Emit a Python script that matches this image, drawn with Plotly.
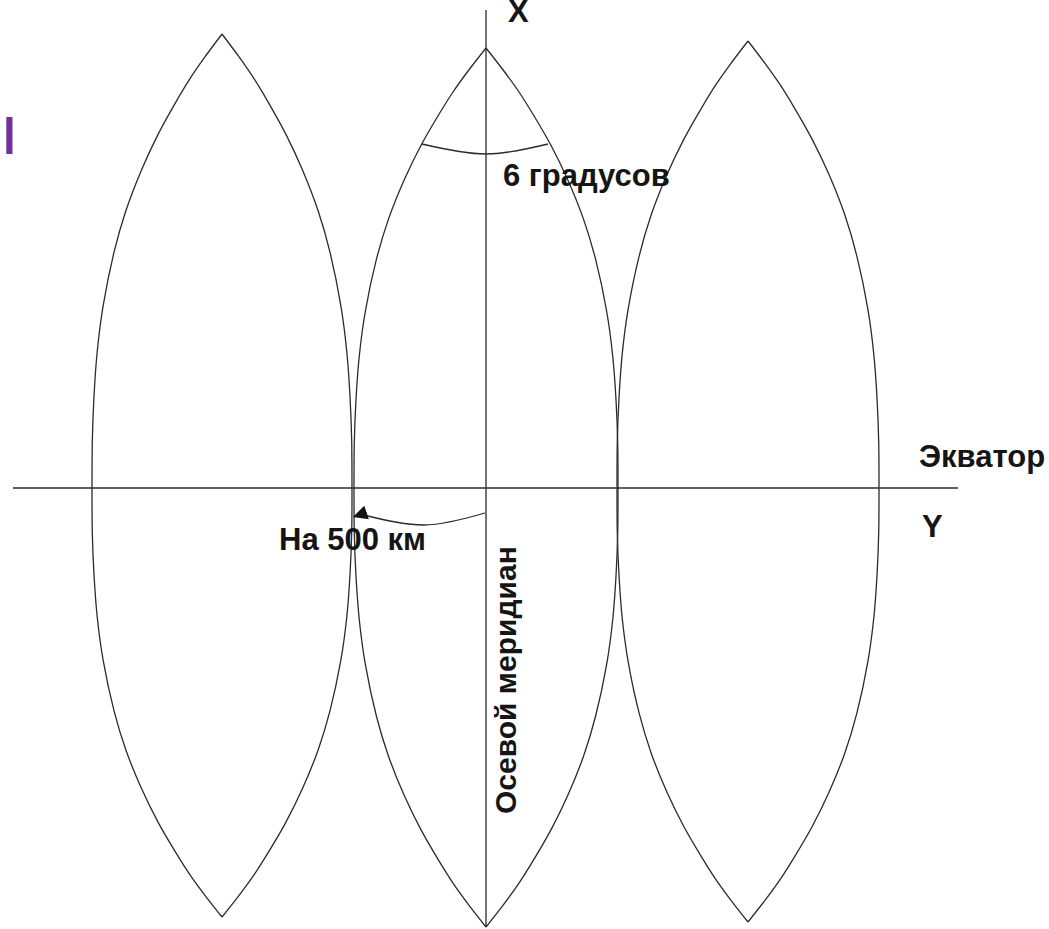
import plotly.graph_objects as go

# ---- geometry (pixel-like units, y downwards) ----
lens_centers_x = [222, 486, 748]
lens_tops_y = [34, 48, 41]
lens_bottoms_y = [917, 927, 922]
lens_half_widths = [130, 132, 131]
equator_y = 488

# lens edge profile: fraction of half-height from the equator -> fraction of half-width
profile_t = [0.0, 0.1, 0.2, 0.3, 0.4, 0.52, 0.61, 0.7, 0.78, 0.85, 0.9, 0.95, 1.0]
profile_w = [1.0, 0.998, 0.985, 0.96, 0.915, 0.83, 0.74, 0.62, 0.49, 0.355, 0.25, 0.13, 0.0]

meridian_x = [486, 486]
meridian_y = [10, 927]
equator_x = [13, 958]

arc6_x = [422, 486, 548]
arc6_y = [144, 154, 144]
arc500_x = [485, 424, 360]
arc500_y = [513, 525, 514]
arrow_tip = (353, 517)
arrow_tail = (368, 512)

labels = ["X", "6 градусов", "Экватор", "Y", "На 500 км"]
labels_x = [518, 586, 982, 932, 352]
labels_y = [11, 175, 456, 526, 539]

vertical_label = "Осевой меридиан"
vertical_label_xy = (505, 680)

title_fragment = "ы"

LINE = "#2b2b2b"
TEXT = "#151515"
FONT = "Liberation Sans, Arial, sans-serif"

fig = go.Figure()

for cx, top, bot, hw in zip(lens_centers_x, lens_tops_y, lens_bottoms_y, lens_half_widths):
    for side in (-1, 1):
        xs, ys = [], []
        for t, w in zip(reversed(profile_t), reversed(profile_w)):
            xs.append(cx + side * w * hw)
            ys.append(equator_y - t * (equator_y - top))
        for t, w in zip(profile_t[1:], profile_w[1:]):
            xs.append(cx + side * w * hw)
            ys.append(equator_y + t * (bot - equator_y))
        fig.add_trace(go.Scatter(x=xs, y=ys, mode="lines",
                                 line=dict(color=LINE, width=1.3, shape="spline", smoothing=0.6),
                                 hoverinfo="skip", showlegend=False))

fig.add_trace(go.Scatter(x=meridian_x, y=meridian_y, mode="lines",
                         line=dict(color=LINE, width=1.3), hoverinfo="skip", showlegend=False))
fig.add_trace(go.Scatter(x=equator_x, y=[equator_y, equator_y], mode="lines",
                         line=dict(color=LINE, width=1.3), hoverinfo="skip", showlegend=False))
fig.add_trace(go.Scatter(x=arc6_x, y=arc6_y, mode="lines",
                         line=dict(color=LINE, width=1.3, shape="spline"), hoverinfo="skip", showlegend=False))
fig.add_trace(go.Scatter(x=arc500_x, y=arc500_y, mode="lines",
                         line=dict(color=LINE, width=1.3, shape="spline"), hoverinfo="skip", showlegend=False))

fig.add_annotation(x=arrow_tip[0], y=arrow_tip[1], ax=arrow_tail[0], ay=arrow_tail[1],
                   xref="x", yref="y", axref="x", ayref="y", text="", showarrow=True,
                   arrowhead=2, arrowsize=2.2, arrowwidth=1.3, arrowcolor="#111111")

for txt, x, y in zip(labels, labels_x, labels_y):
    fig.add_annotation(x=x, y=y, xref="x", yref="y", text="<b>" + txt + "</b>", showarrow=False,
                       xanchor="center", yanchor="middle",
                       font=dict(family=FONT, size=31, color=TEXT))

fig.add_annotation(x=vertical_label_xy[0], y=vertical_label_xy[1], xref="x", yref="y",
                   text="<b>" + vertical_label + "</b>", showarrow=False, textangle=-90,
                   xanchor="center", yanchor="middle",
                   font=dict(family=FONT, size=30, color=TEXT))

fig.add_annotation(x=19, y=130, xref="x", yref="y", text=title_fragment, showarrow=False,
                   xanchor="right", yanchor="middle",
                   font=dict(family=FONT, size=70, color="#7030A0"))

fig.update_xaxes(range=[0, 1049], visible=False, fixedrange=True)
fig.update_yaxes(range=[929, 0], visible=False, fixedrange=True)
fig.update_layout(width=1049, height=929, margin=dict(l=0, r=0, t=0, b=0),
                  paper_bgcolor="white", plot_bgcolor="white", showlegend=False)

fig.write_html("out.html", config={"displayModeBar": False},
               post_script="document.body.style.margin='0';document.body.style.overflow='hidden';")
